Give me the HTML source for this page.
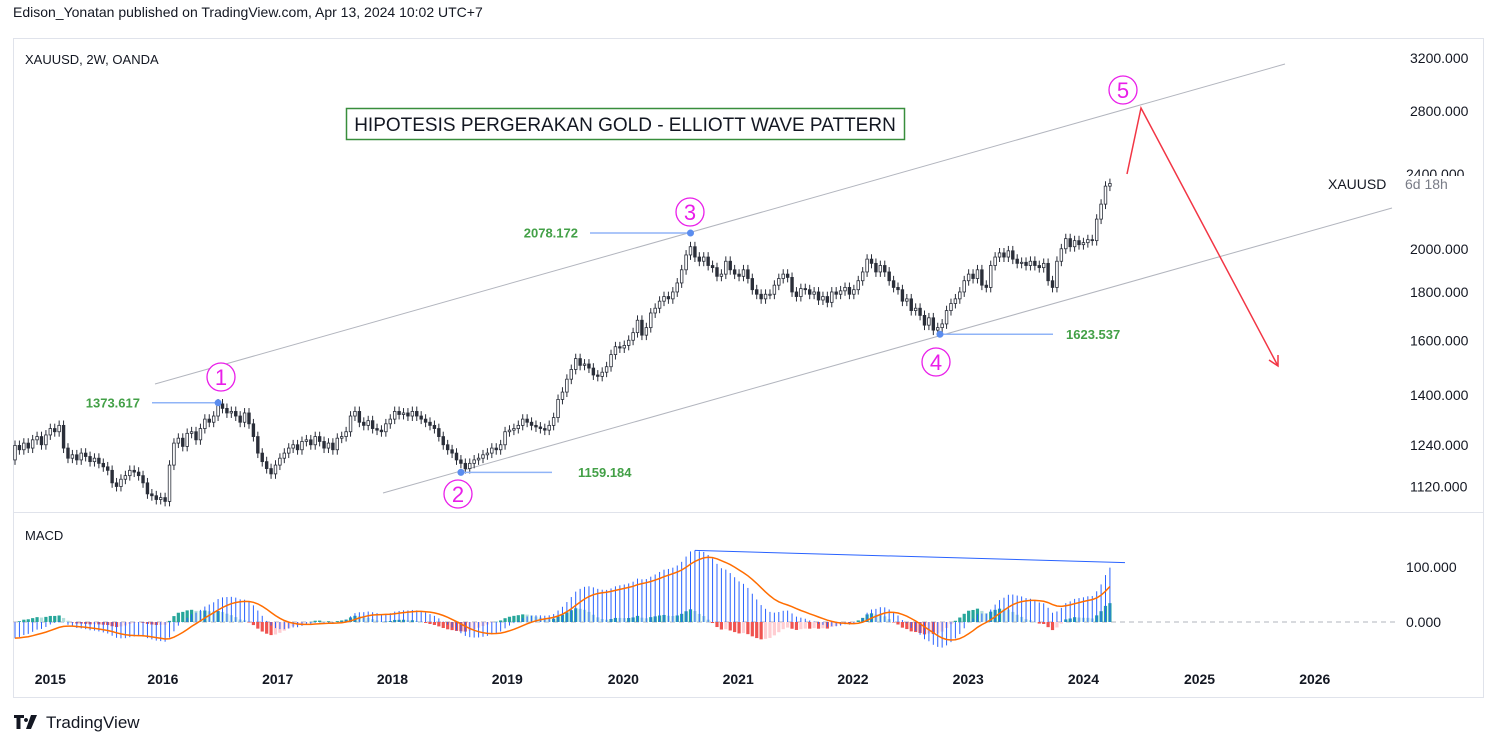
<!DOCTYPE html>
<html><head><meta charset="utf-8"><style>
body{margin:0;background:#fff;width:1498px;height:746px;overflow:hidden;font-family:"Liberation Sans",sans-serif;}
svg{display:block}
</style></head><body>
<svg id="c" width="1498" height="746" viewBox="0 0 1498 746">
<text x="13" y="17" font-size="14" fill="#131722">Edison_Yonatan published on TradingView.com, Apr 13, 2024 10:02 UTC+7</text>
<rect x="13.5" y="38.5" width="1470" height="659" fill="#fff" stroke="#e0e3eb"/>
<line x1="13" y1="512.5" x2="1483" y2="512.5" stroke="#e0e3eb"/>
<text x="25" y="64" font-size="13" fill="#131722">XAUUSD, 2W, OANDA</text>
<text x="25" y="540" font-size="13" fill="#131722">MACD</text>
<g id="yaxis" font-size="14" fill="#131722"></g>
<g id="macdaxis" font-size="14" fill="#131722"></g>
<g id="xaxis" font-size="14" font-weight="bold" fill="#131722"></g>
<g id="draw"></g>
<g id="candles"></g>
<g id="macd"></g>
<g id="ann"></g>
<rect x="346.5" y="108.5" width="558" height="31" fill="#fff" stroke="#388e3c" stroke-width="1.5"/>
<text x="625" y="131" font-size="19" fill="#131722" text-anchor="middle">HIPOTESIS PERGERAKAN GOLD - ELLIOTT WAVE PATTERN</text>
<text x="1328" y="189" font-size="14" fill="#131722">XAUUSD</text>
<text x="1406" y="179" font-size="14" fill="#131722">2400.000</text>
<rect x="1403" y="176" width="62" height="20" fill="#fff"/>
<text x="1405" y="189" font-size="14" fill="#787b86">6d 18h</text>
<g>
<path d="M14 715h10v3h-3.5v11h-4v-11H14z M26 718a2 2 0 1 0 .01 0z M31 715h6l-6 14h-5z" fill="#131722"/>
<text x="46" y="728" font-size="17" fill="#131722">TradingView</text>
</g>
</svg>
<script>
const warmupCloses=[1330,1335,1320,1310,1300,1315,1325,1310,1295,1290,1270,1250,1235,1220,1230,1215,1200,1190,1180,1200,1210,1195];
const closes=[1238,1225,1245,1230,1255,1265,1240,1270,1290,1280,1300,
1230,1200,1210,1195,1215,1205,1190,1200,1185,1175,1165,1130,
1120,1140,1150,1165,1160,1150,1130,1100,1095,1085,1090,1080,1180,
1245,1260,1235,1275,1280,1255,1290,1320,1310,1330,1370,
1355,1340,1345,1330,1310,1340,1305,1265,1215,1190,
1170,1155,1180,1200,1215,1230,
1240,1225,1250,1255,1240,1265,1250,1230,1245,1225,1260,1265,1280,
1330,1345,1310,1300,1315,1290,1285,1280,1305,
1320,1345,1335,1340,1330,1345,1330,1320,1310,1300,1290,
1265,1240,1225,1215,1195,1185,1170,1185,1195,1200,1210,
1215,1230,1225,1240,1280,1285,1290,1300,1320,1310,
1300,1295,1290,1285,1300,1325,1385,1410,1455,
1490,1530,1505,1510,1495,1470,1465,1480,1500,
1545,1575,1570,1580,1600,
1630,1680,1620,1650,1710,1730,1760,
1780,1770,1800,1840,1900,1970,2010,
1960,1940,1960,1920,1910,1870,1880,1940,1900,
1880,1870,1900,1860,1810,1790,1770,1790,
1790,1830,1860,1880,1865,1800,1780,1815,
1810,1790,1800,1765,1780,1755,1800,1790,1805,
1820,1790,1810,1850,1890,1950,1930,1890,
1920,1890,1850,1820,1810,1760,1770,1720,
1730,1700,1660,1690,1640,1650,1665,
1720,1750,1770,1800,1850,1880,
1860,1900,1830,1820,1920,1960,
1980,1960,1990,1950,1930,1935,1920,1940,
1920,1910,1930,1850,1820,1940,2000,
2050,2010,2040,2020,2030,2045,2040,
2150,2230,2330,2345];
const priceTicks=[3200,2800,2000,1800,1600,1400,1240,1120];
const priceTickLabels=["3200.000","2800.000","2000.000","1800.000","1600.000","1400.000","1240.000","1120.000"];
const macdTicks=[100,0];
const macdTickLabels=["100.000","0.000"];
const years=["2015","2016","2017","2018","2019","2020","2021","2022","2023","2024","2025","2026"];
const yearBarIndex=[8.0,33.5,59.5,85.5,111.5,137.8,163.8,189.8,215.9,242,268.3,294.4];
const pivotIdx=[46,101,153,209.5];
const pivotPrice=[1373.617,1159.184,2078.172,1623.537];
const pivotLabels=["1373.617","1159.184","2078.172","1623.537"];

const NS="http://www.w3.org/2000/svg";
const X=i=>15+i*4.415;
const Y=p=>395-Math.log(p/1400)*410;
const MY=v=>622-v*0.55;
function mk(tag,attrs,parent){const e=document.createElementNS(NS,tag);for(const k in attrs)e.setAttribute(k,attrs[k]);parent.appendChild(e);return e;}
const g=id=>document.getElementById(id);

priceTicks.forEach((p,k)=>{let y=Y(p);if(k===0)y=Math.max(y,58);
 const t=mk('text',{x:1410,y:y+5},g('yaxis'));t.textContent=priceTickLabels[k];
 
 });
macdTicks.forEach((v,k)=>{const t=mk('text',{x:1406,y:MY(v)+5},g('macdaxis'));t.textContent=macdTickLabels[k];
 
 });
years.forEach((yr,k)=>{const t=mk('text',{x:X(yearBarIndex[k]),y:684,'text-anchor':'middle'},g('xaxis'));t.textContent=yr;
 
 });

const cg=g('candles');
closes.forEach((c,i)=>{
 const o=i?closes[i-1]:warmupCloses[warmupCloses.length-1];
 const hi=Math.max(o,c)*1.012, lo=Math.min(o,c)*0.988;
 const x=X(i), up=c>=o;
 const w=mk('line',{x1:x,x2:x,y1:Y(hi),y2:Y(lo),stroke:'#2a2e39','stroke-width':1},cg);
 
 
 const top=Y(Math.max(o,c)),bot=Y(Math.min(o,c));
 const r=mk('rect',{x:x-1.3,y:top,width:2.6,height:Math.max(1,bot-top),fill:up?'#fff':'#2a2e39',stroke:'#2a2e39','stroke-width':0.8},cg);
 
 
});

function ema(arr,n){const k=2/(n+1);let e=arr[0];return arr.map(v=>e=v*k+e*(1-k));}
const all=warmupCloses.concat(closes);
const W=warmupCloses.length;
const e12=ema(all,12),e26=ema(all,26);
const macdAll=e12.map((v,i)=>v-e26[i]);
const sigAll=ema(macdAll,9);
const macdV=macdAll.slice(W), sig=sigAll.slice(W);
const hist=macdV.map((v,i)=>v-sig[i]);
const mg=g('macd');
const zl=mk('line',{x1:13,x2:1395,y1:622,y2:622,stroke:'#b2b5be','stroke-dasharray':'5 4'},mg);


hist.forEach((h,i)=>{const prev=i?hist[i-1]:h;
 let col=h>=0?(h>=prev?'#26a69a':'#b2dfdb'):(h<prev?'#ef5350':'#ffcdd2');
 const y0=MY(0),y1=MY(h);
 const r=mk('rect',{x:X(i)-1.6,y:Math.min(y0,y1),width:3.2,height:Math.max(0.5,Math.abs(y1-y0)),fill:col},mg);
 
 });
macdV.forEach((v,i)=>{const l=mk('line',{x1:X(i),x2:X(i),y1:MY(0),y2:MY(v),stroke:'#2962ff','stroke-width':1},mg);
 
 });
const sp=mk('path',{d:sig.map((v,i)=>(i?'L':'M')+X(i).toFixed(1)+' '+MY(v).toFixed(1)).join(''),fill:'none',stroke:'#ff6d00','stroke-width':1.5},mg);


const pk=macdV.indexOf(Math.max(...macdV));
const dl=mk('line',{x1:X(pk),y1:MY(macdV[pk]),x2:1125,y2:MY(macdV[macdV.length-1])-5,stroke:'#2962ff','stroke-width':1},mg);



const dg=g('draw');
const ch1=mk('line',{x1:155,y1:384,x2:1285,y2:64,stroke:'#b2b5be','stroke-width':1},dg);


const ch2=mk('line',{x1:383,y1:493,x2:1392,y2:208,stroke:'#b2b5be','stroke-width':1},dg);


const ar=mk('path',{d:'M1127 174L1141 108L1278 366M1269 360L1278 366L1278 355',fill:'none',stroke:'#f23645','stroke-width':1.5},dg);



const ag=g('ann');
const labelX=[[152,217,140,'end'],[462,552,578,'start'],[590,690,578,'end'],[940,1053,1066,'start']];
pivotIdx.forEach((bi,k)=>{const y=Y(pivotPrice[k]);const L=labelX[k];
 const ln=mk('line',{x1:L[0],x2:L[1],y1:y,y2:y,stroke:'#90b4f7','stroke-width':1.5},ag);
 
 
 const d=mk('circle',{cx:X(bi),cy:y,r:3.5,fill:'#5b8def'},ag);
 
 
 const t=mk('text',{x:L[2],y:y+4.5,'font-size':13,'font-weight':'bold',fill:'#43a047','text-anchor':L[3]},ag);
 t.textContent=pivotLabels[k];
 
 });
const waves=[["1",221,377],["2",458,494],["3",690,212],["4",936,362],["5",1123,90]];
waves.forEach(w=>{const c=mk('circle',{cx:w[1],cy:w[2],r:14,fill:'#fff',stroke:'#e91ee9','stroke-width':1.3},ag);
 
 
 const t=mk('text',{x:w[1],y:w[2]+8,'font-size':22,fill:'#e91ee9','text-anchor':'middle'},ag);
 t.textContent=w[0];
 
 });
</script>
</body></html>
